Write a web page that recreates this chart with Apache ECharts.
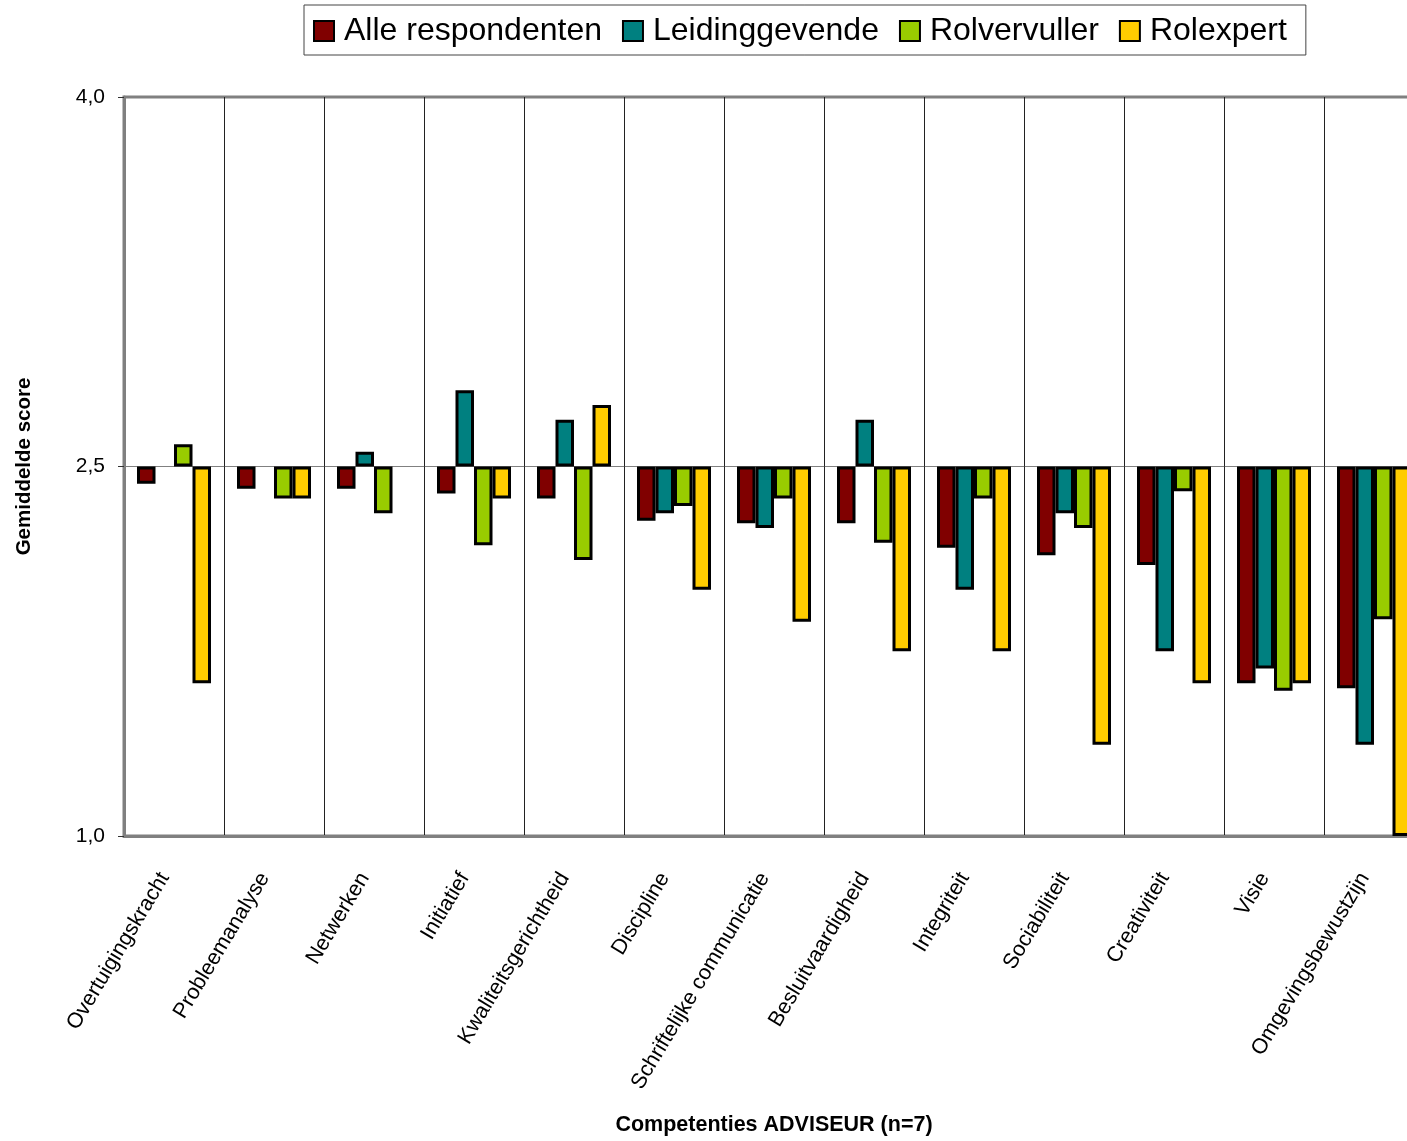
<!DOCTYPE html>
<html>
<head>
<meta charset="utf-8">
<script src="https://cdn.jsdelivr.net/npm/echarts@6/dist/echarts.min.js"></script>
<style>
  html, body { margin: 0; padding: 0; background: #fff; overflow: hidden; }
  /* the plot runs past the right edge of the page, so the canvas is wider than the window */
  #chart { width: 1430px; height: 1141px; }
</style>
</head>
<body>
<div id="chart"></div>
<script>
// Competency scores per respondent group; bars hang from the 2,5 midpoint.
const categories = [
  'Overtuigingskracht', 'Probleemanalyse', 'Netwerken', 'Initiatief',
  'Kwaliteitsgerichtheid', 'Discipline', 'Schriftelijke communicatie',
  'Besluitvaardigheid', 'Integriteit', 'Sociabiliteit', 'Creativiteit',
  'Visie', 'Omgevingsbewustzijn'
];
const seriesNames = ['Alle respondenten', 'Leidinggevende', 'Rolvervuller', 'Rolexpert'];
const alleRespondenten = [2.43, 2.41, 2.41, 2.39, 2.37, 2.28, 2.27, 2.27, 2.17, 2.14, 2.10, 1.62, 1.60];
const leidinggevende   = [2.50, 2.50, 2.56, 2.81, 2.69, 2.31, 2.25, 2.69, 2.00, 2.31, 1.75, 1.68, 1.37];
const rolvervuller     = [2.59, 2.37, 2.31, 2.18, 2.12, 2.34, 2.37, 2.19, 2.37, 2.25, 2.40, 1.59, 1.88];
const rolexpert        = [1.62, 2.37, 2.50, 2.37, 2.75, 2.00, 1.87, 1.75, 1.75, 1.37, 1.62, 1.62, 1.00];
const yTicks = [1.0, 2.5, 4.0];

const baseline = 2.5;
const colors = ['#800000', '#008080', '#99CC00', '#FFCC00'];
const values = [alleRespondenten, leidinggevende, rolvervuller, rolexpert];
const font = '"Liberation Sans", Arial, sans-serif';

// Bars are measured relative to the baseline; a score equal to it has no bar.
const offsetData = arr => arr.map(v => (v === baseline ? '-' : +(v - baseline).toFixed(3)));

const chart = echarts.init(document.getElementById('chart'));
chart.setOption({
  backgroundColor: '#ffffff',
  animation: false,
  textStyle: { fontFamily: font, color: '#000' },
  legend: {
    data: seriesNames,
    left: 304,
    top: 5,
    padding: [9, 19, 7, 9],
    itemGap: 20,
    itemWidth: 20,
    itemHeight: 20,
    icon: 'rect',
    borderColor: '#444',
    borderWidth: 1,
    textStyle: { fontSize: 32, lineHeight: 34, color: '#000', fontFamily: font, padding: [0, 0, 0, 5] }
  },
  grid: {
    left: 124,
    top: 97,
    bottom: 294,
    right: 6,
    show: true,
    borderColor: '#808080',
    borderWidth: 3,
    containLabel: false
  },
  xAxis: {
    type: 'category',
    data: categories,
    name: 'Competenties ADVISEUR (n=7)',
    nameLocation: 'middle',
    nameGap: 278,
    nameTextStyle: { fontSize: 21.5, fontWeight: 'bold', color: '#000', fontFamily: font },
    axisLine: { show: true, onZero: false, lineStyle: { color: '#808080', width: 3 } },
    axisTick: { show: false },
    splitLine: { show: true, lineStyle: { color: '#222', width: 1 } },
    axisLabel: {
      rotate: 59,
      margin: 44,
      verticalAlign: 'bottom',
      fontSize: 21.5,
      color: '#000',
      fontFamily: font,
      interval: 0
    }
  },
  yAxis: {
    type: 'value',
    min: yTicks[0] - baseline,
    max: yTicks[2] - baseline,
    interval: yTicks[1] - yTicks[0],
    name: 'Gemiddelde score',
    nameLocation: 'middle',
    nameRotate: 90,
    nameGap: 89,
    nameTextStyle: { fontSize: 20.5, fontWeight: 'bold', color: '#000', fontFamily: font },
    axisLine: { show: true, lineStyle: { color: '#808080', width: 3 } },
    axisTick: { show: true, length: 6, lineStyle: { color: '#333', width: 1 } },
    splitLine: { show: true, lineStyle: { color: '#808080', width: 1 } },
    axisLabel: {
      margin: 19,
      fontSize: 21,
      color: '#000',
      fontFamily: font,
      formatter: v => (v + baseline).toFixed(1).replace('.', ',')
    }
  },
  series: seriesNames.map((name, i) => ({
    name,
    type: 'bar',
    data: offsetData(values[i]),
    barGap: '0%',
    barCategoryGap: '26%',
    itemStyle: { color: colors[i], borderColor: '#000', borderWidth: 3 }
  }))
});
</script>
</body>
</html>
